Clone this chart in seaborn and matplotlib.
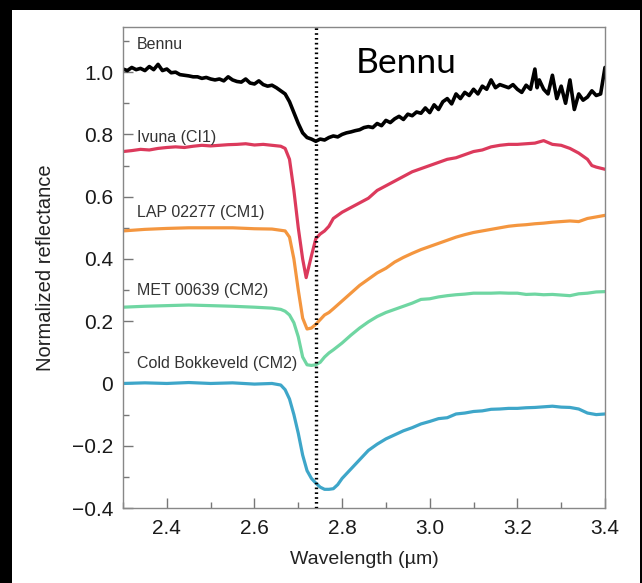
import numpy as np
import pandas as pd
import seaborn as sns
from matplotlib import pyplot as plt
from matplotlib.patches import Rectangle
from matplotlib.ticker import MultipleLocator, FuncFormatter

# Bennu
bennu_wl = [2.30, 2.31, 2.32, 2.33, 2.34, 2.35, 2.36, 2.37, 2.38, 2.39, 2.40, 2.41, 2.42, 2.43, 2.44,
            2.45, 2.46, 2.47, 2.48, 2.49, 2.50, 2.51, 2.52, 2.53, 2.54, 2.55, 2.56, 2.57, 2.58, 2.59,
            2.60, 2.61, 2.62, 2.63, 2.64, 2.65, 2.66, 2.67, 2.68, 2.69, 2.70, 2.71, 2.72, 2.73, 2.74,
            2.75, 2.76, 2.77, 2.78, 2.79, 2.80, 2.81, 2.82, 2.83, 2.84, 2.85, 2.86, 2.87, 2.88, 2.89,
            2.90, 2.91, 2.92, 2.93, 2.94, 2.95, 2.96, 2.97, 2.98, 2.99, 3.00, 3.01, 3.02, 3.03, 3.04,
            3.05, 3.06, 3.07, 3.08, 3.09, 3.10, 3.11, 3.12, 3.13, 3.14, 3.15, 3.16, 3.17, 3.18, 3.19,
            3.20, 3.21, 3.22, 3.23, 3.24, 3.245, 3.25, 3.26, 3.27, 3.28, 3.29, 3.30, 3.31, 3.32, 3.33,
            3.34, 3.35, 3.36, 3.37, 3.38, 3.39, 3.40]
bennu_r = [1.010, 1.005, 1.015, 1.008, 1.012, 1.005, 1.018, 1.008, 1.025, 1.005, 1.010, 0.998, 1.000, 0.992, 0.990,
           0.988, 0.985, 0.985, 0.980, 0.983, 0.978, 0.975, 0.978, 0.972, 0.985, 0.975, 0.970, 0.968, 0.978, 0.965,
           0.962, 0.972, 0.960, 0.955, 0.958, 0.950, 0.940, 0.930, 0.905, 0.870, 0.835, 0.805, 0.790, 0.785, 0.778,
           0.785, 0.782, 0.790, 0.795, 0.792, 0.800, 0.805, 0.808, 0.812, 0.815, 0.822, 0.825, 0.822, 0.835, 0.828,
           0.845, 0.838, 0.850, 0.858, 0.848, 0.865, 0.860, 0.872, 0.868, 0.885, 0.870, 0.895, 0.880, 0.905, 0.915,
           0.898, 0.930, 0.915, 0.935, 0.925, 0.945, 0.930, 0.955, 0.945, 0.975, 0.950, 0.960, 0.955, 0.950, 0.960,
           0.945, 0.935, 0.958, 0.945, 1.010, 0.950, 0.975, 0.945, 0.930, 0.990, 0.915, 0.955, 0.900, 0.975, 0.880,
           0.930, 0.910, 0.920, 0.940, 0.925, 0.930, 1.015]

# Ivuna (CI1)
ivuna_wl = [2.30, 2.32, 2.34, 2.36, 2.38, 2.40, 2.42, 2.44, 2.46, 2.48, 2.50, 2.52, 2.54, 2.56, 2.58,
            2.60, 2.62, 2.64, 2.66, 2.67, 2.68, 2.69, 2.70, 2.71, 2.718, 2.73, 2.74, 2.75, 2.76, 2.77,
            2.78, 2.80, 2.82, 2.84, 2.86, 2.88, 2.90, 2.92, 2.94, 2.96, 2.98, 3.00, 3.02, 3.04, 3.06,
            3.08, 3.10, 3.12, 3.14, 3.16, 3.18, 3.20, 3.22, 3.24, 3.26, 3.28, 3.30, 3.32, 3.34, 3.36,
            3.37, 3.38, 3.40]
ivuna_r = [0.745, 0.748, 0.752, 0.750, 0.755, 0.758, 0.760, 0.758, 0.762, 0.765, 0.763, 0.765, 0.767, 0.768, 0.770,
           0.766, 0.768, 0.765, 0.762, 0.755, 0.720, 0.620, 0.500, 0.400, 0.340, 0.410, 0.465, 0.480, 0.490, 0.505,
           0.530, 0.550, 0.565, 0.580, 0.595, 0.620, 0.635, 0.650, 0.665, 0.680, 0.690, 0.700, 0.710, 0.720, 0.725,
           0.735, 0.745, 0.750, 0.760, 0.765, 0.768, 0.768, 0.770, 0.772, 0.780, 0.768, 0.765, 0.755, 0.740, 0.720,
           0.700, 0.695, 0.688]

# LAP 02277 (CM1)
lap_wl = [2.30, 2.35, 2.40, 2.45, 2.50, 2.55, 2.60, 2.64, 2.67, 2.68, 2.69, 2.70, 2.71, 2.72, 2.73,
          2.74, 2.75, 2.76, 2.77, 2.78, 2.80, 2.82, 2.84, 2.86, 2.88, 2.90, 2.92, 2.94, 2.96, 2.98,
          3.00, 3.02, 3.04, 3.06, 3.08, 3.10, 3.12, 3.14, 3.16, 3.18, 3.20, 3.22, 3.24, 3.26, 3.28,
          3.30, 3.32, 3.34, 3.36, 3.38, 3.40]
lap_r = [0.490, 0.495, 0.498, 0.500, 0.500, 0.500, 0.497, 0.496, 0.490, 0.470, 0.400, 0.300, 0.210, 0.175, 0.178,
         0.190, 0.205, 0.220, 0.228, 0.240, 0.265, 0.290, 0.315, 0.335, 0.355, 0.370, 0.390, 0.405, 0.418, 0.430,
         0.440, 0.450, 0.460, 0.470, 0.478, 0.485, 0.490, 0.495, 0.500, 0.505, 0.508, 0.510, 0.513, 0.515, 0.518,
         0.520, 0.522, 0.520, 0.530, 0.535, 0.540]

# MET 00639 (CM2)
met_wl = [2.30, 2.35, 2.40, 2.45, 2.50, 2.55, 2.60, 2.64, 2.66, 2.67, 2.68, 2.69, 2.70, 2.71, 2.72,
          2.73, 2.74, 2.75, 2.76, 2.77, 2.78, 2.80, 2.82, 2.84, 2.86, 2.88, 2.90, 2.92, 2.94, 2.96,
          2.98, 3.00, 3.02, 3.04, 3.06, 3.08, 3.10, 3.12, 3.14, 3.16, 3.18, 3.20, 3.22, 3.24, 3.26,
          3.28, 3.30, 3.32, 3.34, 3.36, 3.38, 3.40]
met_r = [0.245, 0.248, 0.250, 0.252, 0.250, 0.248, 0.245, 0.242, 0.238, 0.232, 0.220, 0.195, 0.150, 0.085, 0.060,
         0.058, 0.060, 0.068, 0.085, 0.098, 0.108, 0.130, 0.155, 0.178, 0.198, 0.215, 0.228, 0.238, 0.248, 0.258,
         0.270, 0.272, 0.278, 0.282, 0.285, 0.287, 0.290, 0.290, 0.290, 0.291, 0.290, 0.290, 0.286, 0.287, 0.285,
         0.286, 0.284, 0.282, 0.288, 0.290, 0.294, 0.295]

# Cold Bokkeveld (CM2)
cb_wl = [2.30, 2.35, 2.40, 2.45, 2.50, 2.55, 2.60, 2.64, 2.66, 2.67, 2.68, 2.69, 2.70, 2.71, 2.72,
         2.73, 2.74, 2.75, 2.76, 2.77, 2.78, 2.79, 2.80, 2.82, 2.84, 2.86, 2.88, 2.90, 2.92, 2.94,
         2.96, 2.98, 3.00, 3.02, 3.04, 3.06, 3.08, 3.10, 3.12, 3.14, 3.16, 3.18, 3.20, 3.22, 3.24,
         3.26, 3.28, 3.30, 3.32, 3.34, 3.36, 3.38, 3.40]
cb_r = [0.000, 0.002, 0.000, 0.003, 0.000, 0.002, -0.002, 0.000, -0.005, -0.020, -0.050, -0.100, -0.160, -0.230, -0.280,
        -0.305, -0.320, -0.333, -0.340, -0.340, -0.338, -0.325, -0.305, -0.275, -0.245, -0.215, -0.195, -0.178, -0.165, -0.152,
        -0.142, -0.130, -0.122, -0.113, -0.110, -0.098, -0.095, -0.090, -0.088, -0.083, -0.082, -0.080, -0.080, -0.078, -0.077,
        -0.075, -0.073, -0.076, -0.077, -0.082, -0.095, -0.100, -0.098]

labels = ['Bennu', 'Ivuna (CI1)', 'LAP 02277 (CM1)', 'MET 00639 (CM2)', 'Cold Bokkeveld (CM2)']
label_y = [1.09, 0.79, 0.55, 0.30, 0.065]
colors = ['black', '#dc3a5c', '#f4963f', '#6fd6a2', '#3ea6c9']
band_center = 2.74

sns.set_style("ticks")
plt.rcParams['font.family'] = ['Liberation Sans', 'DejaVu Sans']

fig = plt.figure(figsize=(6.42, 5.83), dpi=100, facecolor='black')
fig.patches.append(Rectangle((12 / 642, 0), 628 / 642, 573 / 583, transform=fig.transFigure,
                             facecolor='white', edgecolor='none', zorder=-1))
ax = fig.add_axes([123 / 642, 75 / 583, 482 / 642, 481 / 583])

series = [(bennu_wl, bennu_r), (ivuna_wl, ivuna_r), (lap_wl, lap_r), (met_wl, met_r), (cb_wl, cb_r)]
for i, (wl, r) in enumerate(series):
    d = pd.DataFrame({'wl': wl, 'r': r})
    sns.lineplot(data=d, x='wl', y='r', ax=ax, color=colors[i], lw=2.6 if i == 0 else 2.3,
                 sort=True, estimator=None)
    ax.text(2.332, label_y[i], labels[i], fontsize=11.5, color='#333333', va='center', ha='left')

ax.axvline(band_center, color='black', lw=2.4, ls=(0, (0.5, 0.95)), zorder=5)
ax.text(2.946, 1.03, 'Bennu', fontsize=25.5, family='Lato', ha='center', va='center', color='black')

ax.set_xlim(2.3, 3.4)
ax.set_ylim(-0.4, 1.145)
ax.xaxis.set_major_locator(MultipleLocator(0.2))
ax.xaxis.set_minor_locator(MultipleLocator(0.1))
ax.yaxis.set_major_locator(MultipleLocator(0.2))
ax.yaxis.set_minor_locator(MultipleLocator(0.1))
ax.yaxis.set_major_formatter(FuncFormatter(lambda v, p: '0' if abs(v) < 1e-9 else ('%.1f' % v).replace('-', '\u2212')))
ax.tick_params(which='both', direction='in', colors='#777777', labelcolor='#1a1a1a', labelsize=15)
ax.tick_params(which='major', length=7, width=1)
ax.tick_params(which='minor', length=4, width=1)
ax.tick_params(axis='y', pad=7)
ax.tick_params(axis='x', pad=8)
for s in ax.spines.values():
    s.set_color('#888888')
    s.set_linewidth(1)
ax.set_xlabel('Wavelength (\u00b5m)', fontsize=14, color='#222222', labelpad=9)
ax.set_ylabel('Normalized reflectance', fontsize=14.5, color='#222222', labelpad=12)

fig.savefig('out.png', dpi=100, facecolor=fig.get_facecolor())
